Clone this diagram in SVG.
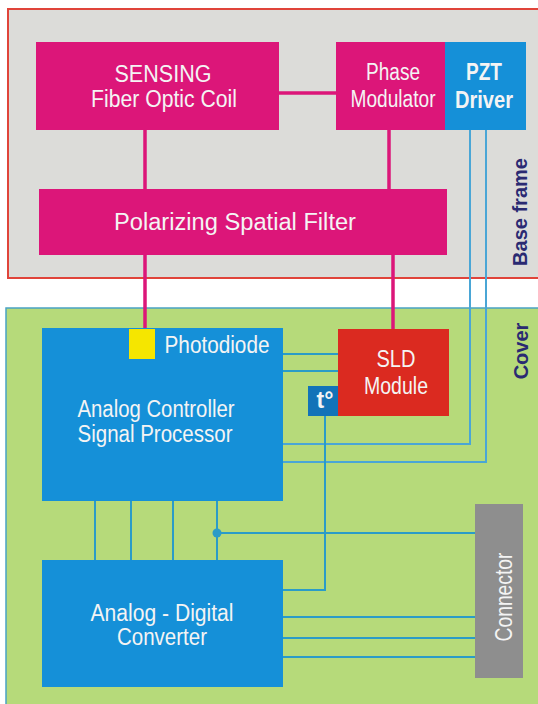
<svg xmlns="http://www.w3.org/2000/svg" width="538" height="704" viewBox="0 0 538 704">
<style>
text{font-family:"Liberation Sans",Arial,sans-serif;}
.wt{fill:#f4f4f4;font-size:23px;text-anchor:middle;}
.lbl{fill:#2a2a72;font-size:20px;font-weight:bold;text-anchor:middle;}
.mag{fill:#dc1679;}
.blu{fill:#1590d8;}
.fib{stroke:#dc1679;stroke-width:3.5;fill:none;}
.wire{stroke:#2a9cc8;stroke-width:2;fill:none;}
.pzt{stroke:#4aa6d6;stroke-width:2;fill:none;}
</style>
<rect width="538" height="704" fill="#ffffff"/>
<g id="base-frame">
<rect x="8" y="9" width="540" height="269" fill="#dcdcd9" stroke="#e0443a" stroke-width="2"/>
<text class="lbl" transform="translate(527,212) rotate(-90)">Base frame</text>
</g>
<g id="cover">
<rect x="6" y="308" width="540" height="410" fill="#b6da7a" stroke="#4aa3c4" stroke-width="1.5"/>
<text class="lbl" transform="translate(528,351) rotate(-90)">Cover</text>
</g>
<g id="connectors">
<path class="fib" d="M279 93H336"/>
<path class="fib" d="M145 130V189"/>
<path class="fib" d="M389 130V189"/>
<path class="fib" d="M145 255V329"/>
<path class="fib" d="M393 255V329"/>
<path class="pzt" d="M470 130V444H283"/>
<path class="pzt" d="M486 130V462H283"/>
<path class="wire" d="M283 354H338"/>
<path class="wire" d="M283 371H338"/>
<path class="wire" d="M325 416V590H283"/>
<path class="wire" d="M95 501V560M131 501V560M173 501V560M217 501V560"/>
<path class="wire" d="M217 533H475"/>
<circle cx="217" cy="533" r="4.5" fill="#2a9cc8"/>
<path class="wire" d="M283 617H475M283 638H475M283 657H475"/>
</g>
<g id="sensing-coil">
<rect class="mag" x="36" y="42" width="243" height="88"/>
<text class="wt" x="163" y="82" textLength="97" lengthAdjust="spacingAndGlyphs">SENSING</text>
<text class="wt" x="164" y="107" textLength="146" lengthAdjust="spacingAndGlyphs">Fiber Optic Coil</text>
</g>
<g id="phase-modulator">
<rect class="mag" x="336" y="42" width="109" height="88"/>
<text class="wt" x="393" y="80" textLength="54" lengthAdjust="spacingAndGlyphs">Phase</text>
<text class="wt" x="393" y="107" textLength="85" lengthAdjust="spacingAndGlyphs">Modulator</text>
</g>
<g id="pzt-driver">
<rect class="blu" x="445" y="42" width="81" height="88"/>
<text class="wt" x="484" y="80" font-weight="bold" textLength="36" lengthAdjust="spacingAndGlyphs">PZT</text>
<text class="wt" x="484" y="108" font-weight="bold" textLength="58" lengthAdjust="spacingAndGlyphs">Driver</text>
</g>
<g id="polarizing-filter">
<rect class="mag" x="39" y="189" width="408" height="66"/>
<text class="wt" x="235" y="230" font-size="24" textLength="242" lengthAdjust="spacingAndGlyphs">Polarizing Spatial Filter</text>
</g>
<g id="signal-processor">
<rect class="blu" x="42" y="328" width="241" height="173"/>
<rect x="129" y="329" width="26" height="30" fill="#f5e600"/>
<text class="wt" x="217" y="353" textLength="105" lengthAdjust="spacingAndGlyphs">Photodiode</text>
<text class="wt" x="156" y="417" textLength="157" lengthAdjust="spacingAndGlyphs">Analog Controller</text>
<text class="wt" x="155" y="442" textLength="155" lengthAdjust="spacingAndGlyphs">Signal Processor</text>
</g>
<g id="sld-module">
<rect x="338" y="329" width="111" height="87" fill="#db2a20"/>
<text class="wt" x="396" y="367" textLength="39" lengthAdjust="spacingAndGlyphs">SLD</text>
<text class="wt" x="396" y="394" textLength="64" lengthAdjust="spacingAndGlyphs">Module</text>
</g>
<g id="temp-sensor">
<rect x="308" y="386" width="30" height="30" fill="#1273b8"/>
<text class="wt" x="325" y="408" font-size="19" font-weight="bold">t°</text>
</g>
<g id="adc">
<rect class="blu" x="42" y="560" width="241" height="127"/>
<text class="wt" x="162" y="621" textLength="143" lengthAdjust="spacingAndGlyphs">Analog - Digital</text>
<text class="wt" x="162" y="645" textLength="90" lengthAdjust="spacingAndGlyphs">Converter</text>
</g>
<g id="connector">
<rect x="475" y="504" width="48" height="174" fill="#8e8e8e"/>
<text class="wt" transform="translate(512,597) rotate(-90)" font-size="21" fill="#e8e8e8" textLength="89" lengthAdjust="spacingAndGlyphs">Connector</text>
</g>
</svg>
